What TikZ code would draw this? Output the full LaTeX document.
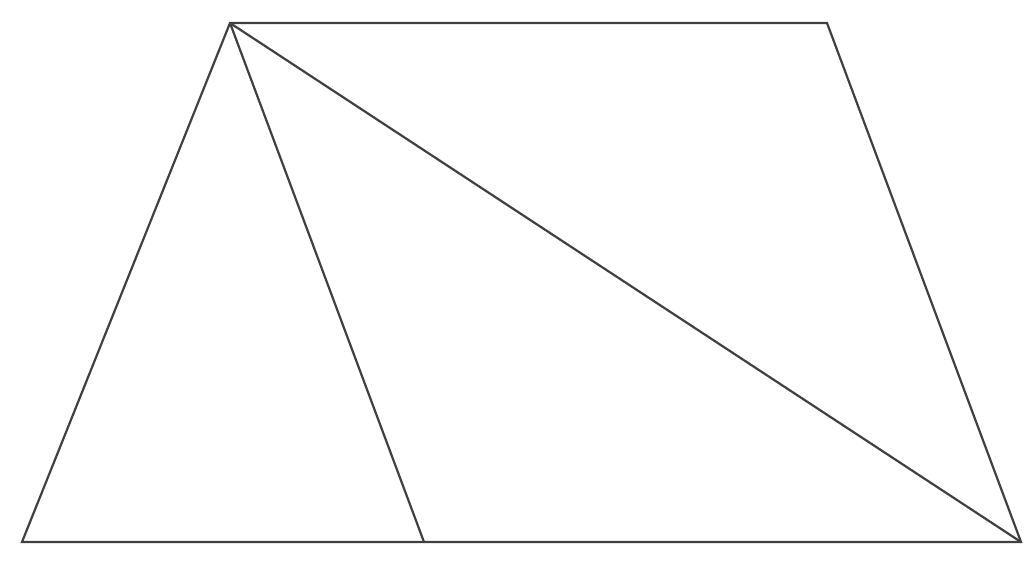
\documentclass[tikz,border=0pt]{standalone}
\begin{document}
\begin{tikzpicture}[x=1pt,y=-1pt,edge/.style={draw=black!75,line width=2.2pt,line join=miter}]
\useasboundingbox (0,0) rectangle (1024,571);
\coordinate (A) at (230,23);
\coordinate (B) at (827,23);
\coordinate (C) at (1021,542);
\coordinate (D) at (22,542);
\coordinate (E) at (424,542);
\draw[edge] (D) -- (A) -- (B) -- (C) -- cycle;
\draw[edge] (A) -- (E);
\draw[edge] (A) -- (C);
\end{tikzpicture}
\end{document}
